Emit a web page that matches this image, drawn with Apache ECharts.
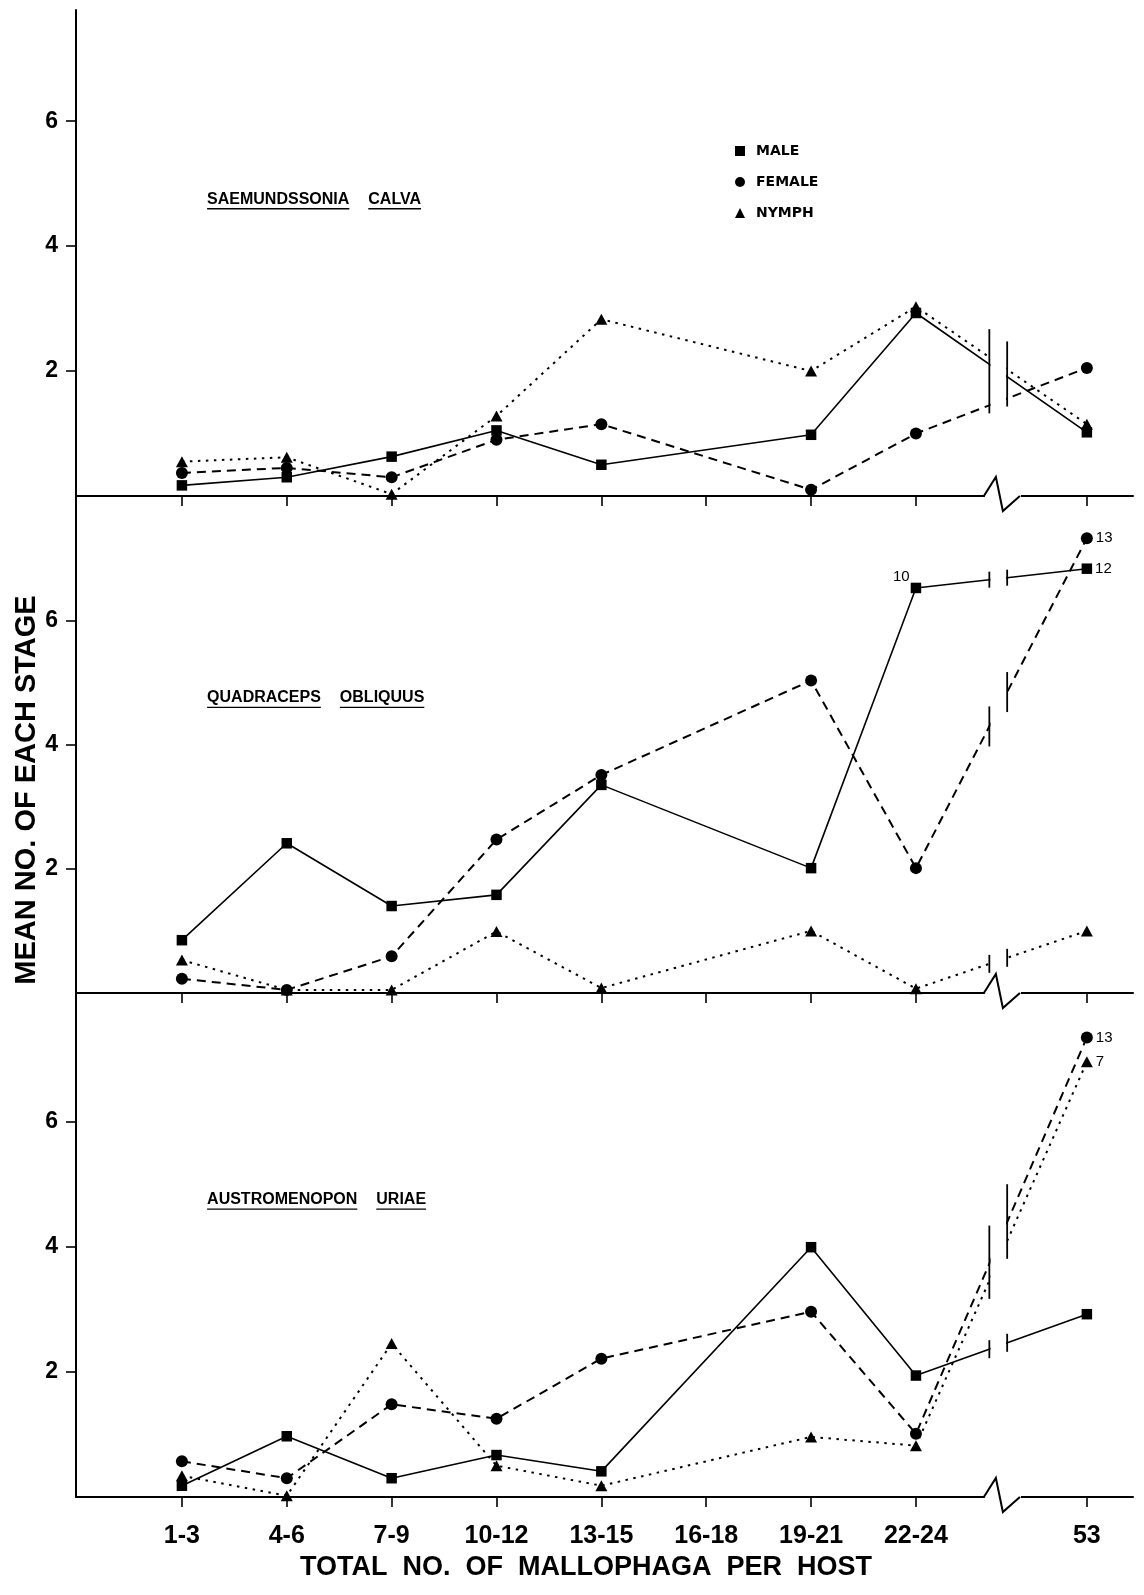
<!DOCTYPE html>
<html><head><meta charset="utf-8">
<script src="https://cdn.jsdelivr.net/npm/echarts@6/dist/echarts.min.js"></script>
<style>html,body{margin:0;padding:0;background:#fff}#c{width:1144px;height:1595px}</style>
</head><body><div id="c"></div>
<script>
// ---------------- data ----------------
const categories = ['1-3','4-6','7-9','10-12','13-15','16-18','19-21','22-24','53'];
const yTickValues = [2, 4, 6];
const seriesNames = ['MALE', 'FEMALE', 'NYMPH'];
const panelTitles = [['SAEMUNDSSONIA', 'CALVA'], ['QUADRACEPS', 'OBLIQUUS'], ['AUSTROMENOPON', 'URIAE']];
const xAxisTitle = 'TOTAL  NO.  OF  MALLOPHAGA  PER  HOST';
const yAxisTitle = 'MEAN NO. OF EACH STAGE';

// Saemundssonia calva
const calvaMale   = [0.17, 0.30, 0.63, 1.05, 0.50, null, 0.98, 2.93, 1.02];
const calvaFemale = [0.37, 0.45, 0.30, 0.90, 1.15, null, 0.10, 1.00, 2.05];
const calvaNymph  = [0.55, 0.62, 0.03, 1.28, 2.83, null, 2.00, 3.03, 1.15];
// Quadraceps obliquus
const obliquusMale   = [0.85, 2.41, 1.40, 1.58, 3.35, null, 2.01, 6.52, 6.83];
const obliquusFemale = [0.23, 0.05, 0.59, 2.47, 3.51, null, 5.03, 2.01, 7.32];
const obliquusNymph  = [0.53, 0.05, 0.05, 0.99, 0.08, null, 1.00, 0.07, 1.00];
// Austromenopon uriae
const uriaeMale   = [0.18, 0.97, 0.30, 0.67, 0.41, null, 3.99, 1.94, 2.92];
const uriaeFemale = [0.57, 0.30, 1.48, 1.25, 2.21, null, 2.96, 1.01, 7.34];
const uriaeNymph  = [0.34, 0.02, 2.45, 0.50, 0.18, null, 0.96, 0.82, 6.95];

// values written beside off-scale points
const obliquusMaleNotes   = [null, null, null, null, null, null, null, '10', '12'];
const obliquusFemaleNotes = [null, null, null, null, null, null, null, null, '13'];
const uriaeFemaleNotes    = [null, null, null, null, null, null, null, null, '13'];
const uriaeNymphNotes     = [null, null, null, null, null, null, null, null, '7'];

// ---------------- layout ----------------
const FONT = '"Liberation Sans", Arial, Helvetica, sans-serif';
const BREAK_SPAN = 1.63;               // the broken axis: 53 sits this far past 22-24
function catX(i) { return i <= 7 ? i : 7 + BREAK_SPAN; }
const xTickPos = categories.map((c, i) => catX(i));
const X_MIN = -1.01, X_MAX = 9.07;
const BREAK_L = 7.70, BREAK_R = 7.87, BREAK_C = 7.81;

const panels = [
  { vals: [calvaMale, calvaFemale, calvaNymph], notes: [null, null, null], yMax: 7.78, top: 10, height: 486,
    bars: [{ s: [0, 1, 2], padT: 28, padB: 8 }] },
  { vals: [obliquusMale, obliquusFemale, obliquusNymph], notes: [obliquusMaleNotes, obliquusFemaleNotes, null], yMax: 8.0, top: 496, height: 497,
    bars: [{ s: [0], padT: 8, padB: 8 }, { s: [1], padT: 20, padB: 20 }, { s: [2], padT: 9, padB: 9 }] },
  { vals: [uriaeMale, uriaeFemale, uriaeNymph], notes: [null, uriaeFemaleNotes, uriaeNymphNotes], yMax: 8.05, top: 993, height: 504,
    bars: [{ s: [0], padT: 9, padB: 9 }, { s: [1, 2], padT: 38, padB: 18 }] }
];

const styles = [
  { symbol: 'rect', symbolSize: 10.5, line: { color: '#000', width: 1.6, type: 'solid' } },
  { symbol: 'circle', symbolSize: 12, line: { color: '#000', width: 2, type: [9, 6] } },
  { symbol: 'triangle', symbolSize: [12, 11], line: { color: '#000', width: 2, type: [2.5, 5.5] } }
];

const grids = [], xAxes = [], yAxes = [], series = [];
panels.forEach((p, pi) => {
  grids.push({ left: 76, right: 11, top: p.top, height: p.height, containLabel: false });
  xAxes.push({
    type: 'value', gridIndex: pi, min: X_MIN, max: X_MAX,
    axisLine: { show: true, onZero: false, lineStyle: { color: '#000', width: 2 } },
    axisTick: { show: true, customValues: xTickPos, length: 10, lineStyle: { color: '#000', width: 1.6 } },
    axisLabel: {
      show: pi === 2, customValues: xTickPos, margin: 27, color: '#000',
      fontFamily: FONT, fontWeight: 'bold', fontSize: 25,
      formatter: v => { const i = xTickPos.findIndex(x => Math.abs(x - v) < 1e-6); return i >= 0 ? categories[i] : ''; }
    },
    splitLine: { show: false }
  });
  yAxes.push({
    type: 'value', gridIndex: pi, min: 0, max: p.yMax,
    axisLine: { show: true, onZero: false, lineStyle: { color: '#000', width: 2 } },
    axisTick: { show: true, customValues: yTickValues, length: 10, lineStyle: { color: '#000', width: 1.6 } },
    axisLabel: { show: true, customValues: yTickValues, margin: 18, color: '#000', fontFamily: FONT, fontWeight: 'bold', fontSize: 23 },
    splitLine: { show: false }
  });
  p.vals.forEach((vals, si) => {
    const notes = p.notes[si];
    const data = [];
    vals.forEach((v, i) => {
      if (v == null) return;
      const item = { value: [catX(i), v] };
      if (notes && notes[i]) {
        const leftSide = (si === 0 && i === 7);
        item.label = {
          show: true, formatter: notes[i], color: '#000', fontFamily: FONT, fontSize: 15,
          position: leftSide ? 'left' : 'right', distance: leftSide ? 1 : 3, offset: leftSide ? [0, -11] : [0, 0]
        };
      }
      data.push(item);
    });
    const st = styles[si];
    series.push({
      name: seriesNames[si], type: 'line', xAxisIndex: pi, yAxisIndex: pi, data,
      symbol: st.symbol, symbolSize: st.symbolSize, showAllSymbol: true,
      itemStyle: { color: '#000' }, lineStyle: st.line,
      label: { show: false }, emphasis: { disabled: true }, animation: false, z: 3 + si
    });
  });
});

const chart = echarts.init(document.getElementById('c'), null, { renderer: 'canvas' });
chart.setOption({
  backgroundColor: '#fff',
  animation: false,
  grid: grids, xAxis: xAxes, yAxis: yAxes, series,
  legend: {
    orient: 'vertical', left: 730, top: 139, itemWidth: 10, itemHeight: 10, itemGap: 17,
    selectedMode: false,
    data: [{ name: 'MALE', icon: 'rect' }, { name: 'FEMALE', icon: 'circle' }, { name: 'NYMPH', icon: 'triangle' }],
    textStyle: { color: '#000', fontFamily: '"DejaVu Sans", sans-serif', fontWeight: 'bold', fontSize: 14, padding: [0, 0, 0, 6] }
  }
});

// ---------------- decorations (break marks, titles) ----------------
const measure = document.createElement('canvas').getContext('2d');
function textWidth(str, font) { measure.font = font; return measure.measureText(str).width; }
const g = [];
panels.forEach((p, pi) => {
  const px = (x, y) => chart.convertToPixel({ xAxisIndex: pi, yAxisIndex: pi }, [x, y]);
  const axisY = px(0, 0)[1];
  const xl = px(BREAK_L, 0)[0], xr = px(BREAK_R, 0)[0], xc = px(BREAK_C, 0)[0];
  // blank the plotted lines between the two break bars
  g.push({ type: 'rect', z: 100, shape: { x: xl + 1.2, y: p.top, width: xr - xl - 2.4, height: axisY - p.top - 3 }, style: { fill: '#fff' } });
  // break bars crossing each line
  p.bars.forEach(b => {
    [xl, xr].forEach(bx => {
      const ys = b.s.map(si => {
        const a = px(catX(7), p.vals[si][7]), c = px(catX(8), p.vals[si][8]);
        return a[1] + (c[1] - a[1]) * (bx - a[0]) / (c[0] - a[0]);
      });
      g.push({ type: 'line', z: 101, shape: { x1: bx, y1: Math.min(...ys) - b.padT, x2: bx, y2: Math.max(...ys) + b.padB }, style: { stroke: '#000', lineWidth: 1.8 } });
    });
  });
  // zigzag on the x axis
  g.push({ type: 'rect', z: 100, shape: { x: xc - 16, y: axisY - 4, width: 36, height: 8 }, style: { fill: '#fff' } });
  g.push({ type: 'polyline', z: 101, shape: { points: [[xc - 17, axisY], [xc - 5, axisY - 19], [xc + 2, axisY + 15], [xc + 19, axisY]] }, style: { stroke: '#000', lineWidth: 2, fill: null } });
  // species title, underlined word by word
  const tFont = 'bold 16px "Liberation Sans", Arial, sans-serif';
  const tp = px(0.24, 4.75);
  let x = tp[0];
  panelTitles[pi].forEach(word => {
    const w = textWidth(word, tFont);
    g.push({ type: 'text', z: 102, x: x, y: tp[1], style: { text: word, font: tFont, fill: '#000', align: 'left', verticalAlign: 'middle' } });
    g.push({ type: 'line', z: 102, shape: { x1: x, y1: tp[1] + 9.5, x2: x + w, y2: tp[1] + 9.5 }, style: { stroke: '#000', lineWidth: 1.4 } });
    x += w + 19;
  });
});
// axis titles
g.push({ type: 'text', z: 102, x: 27, y: 790, rotation: Math.PI / 2,
  style: { text: yAxisTitle, font: 'bold 29px "Liberation Sans", Arial, sans-serif', fill: '#000', align: 'center', verticalAlign: 'middle' } });
g.push({ type: 'text', z: 102, x: 586, y: 1568,
  style: { text: xAxisTitle, font: 'bold 27px "Liberation Sans", Arial, sans-serif', fill: '#000', align: 'center', verticalAlign: 'middle' } });
chart.setOption({ graphic: { elements: g } });
</script>
</body></html>
